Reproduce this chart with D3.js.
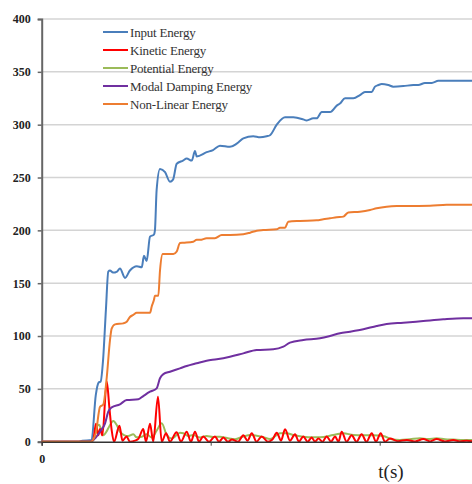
<!DOCTYPE html>
<html>
<head>
<meta charset="utf-8">
<script src="https://cdn.jsdelivr.net/npm/d3@7"></script>
<style>
  html, body { margin: 0; padding: 0; background: #fff; }
</style>
</head>
<body>
<div id="chart"></div>
<script>
// Energias vs tiempo

const width = 472;
const height = 484;

let yTicks = [0, 50, 100, 150, 200, 250, 300, 350, 400];
let xTicks = [0, 10, 20];
let xTickLabels = ["0"];

let seriesNames = ["Input Energy", "Kinetic Energy", "Potential Energy", "Modal Damping Energy", "Non-Linear Energy"];
let seriesColors = ["#4a7ebb", "#ff0000", "#9bbb59", "#7030a0", "#ed7d31"];

// [t, energia]
let inputEnergy = [[0,0],[2.2,0],[2.4,1],[2.95,1.5],[3.2,44],[3.37,56],[3.49,57],[3.63,77],[3.8,125],[3.94,161],[4.04,162],[4.22,160],[4.46,161],[4.63,164],[4.93,155],[5.22,162],[5.63,166],[5.92,165],[6.05,176],[6.21,171],[6.41,194],[6.64,196],[6.7,200],[6.8,238],[7.0,258],[7.3,255],[7.59,246],[7.77,248],[7.99,263],[8.36,266],[8.58,268],[8.88,266],[9.07,275],[9.17,270],[9.76,274],[10.14,276],[10.55,280],[11.14,279],[11.54,282],[11.93,287],[12.52,289],[12.92,288],[13.31,289],[13.51,290],[13.91,300],[14.4,307],[14.89,307],[15.48,305],[15.68,304],[16.07,306],[16.27,306],[16.57,312],[17.06,312],[17.46,318],[17.65,320],[17.95,325],[18.44,325],[18.83,328],[19.13,331],[19.53,331],[19.72,336],[19.92,337.5],[20.12,338.5],[20.51,337.5],[20.8,336],[21.4,336.5],[21.99,337.5],[22.28,337.5],[22.68,339.5],[23.08,339.5],[23.47,341.5],[25.5,341.5]];

let kineticEnergy = [[0,0],[2.9,0],[3.05,1.6],[3.21,17],[3.35,6],[3.45,12],[3.59,6],[3.85,57],[4.0,33],[4.14,11],[4.28,0],[4.6,15],[4.78,1],[5.02,5],[5.22,0],[5.52,1],[5.73,3],[6.01,12],[6.17,0],[6.41,17],[6.6,0],[6.88,42.6],[7.1,0],[7.36,8],[7.59,0],[7.98,9],[8.24,0],[8.58,9.5],[8.83,0],[9.07,9.5],[9.31,0],[9.56,5],[9.9,0],[10.25,5],[10.49,0],[10.75,4],[11.02,0],[11.26,2],[11.62,0],[11.93,6],[12.18,1],[12.43,8],[12.71,0],[13.02,5],[13.39,0],[13.65,2],[13.91,8.5],[14.16,1],[14.4,11.7],[14.69,1],[14.99,7],[15.22,0],[15.48,5],[15.73,0],[15.98,4],[16.17,0],[16.37,3],[16.62,0],[16.86,5],[17.12,0],[17.36,5],[17.56,0],[17.75,9.5],[18.04,0],[18.34,6],[18.63,0],[18.93,7],[19.22,0],[19.53,8],[19.78,0],[20.06,8],[20.31,0],[20.61,3],[21.08,0.5],[21.6,1.6],[22.09,0.3],[22.58,2.5],[22.98,0.3],[23.37,2.5],[23.86,0.3],[24.36,1.6],[24.75,0.3],[25.15,1],[25.5,0.3]];

let potentialEnergy = [[0,0],[2.96,0],[3.09,3],[3.25,14],[3.39,16],[3.51,12],[3.64,6],[3.85,10],[3.94,12.7],[4.24,19.5],[4.44,15.8],[4.63,9.5],[4.87,6.3],[5.12,5.4],[5.42,7],[5.62,4.2],[5.92,4.7],[6.21,7],[6.51,4],[6.8,10.4],[7.1,17.4],[7.4,6.3],[7.69,3],[7.99,6.3],[8.18,8.5],[8.38,8],[8.67,5.4],[8.97,6.3],[9.37,4],[9.76,5.4],[10.14,4.4],[10.55,4.8],[10.96,3.5],[11.44,2.3],[11.93,5],[12.43,6.3],[13.11,4.2],[13.51,2.5],[14.1,8],[14.5,8],[14.89,6.3],[15.48,4.7],[16.07,4.2],[16.47,4.2],[17.25,6.3],[17.85,8],[18.44,6.3],[19.03,6],[19.62,6],[20.21,5.4],[20.71,2.3],[21.2,1.6],[21.79,2.3],[22.38,3.2],[22.86,2.5],[23.37,3.2],[23.86,2.3],[24.36,2],[25.33,1.6],[25.5,1.6]];

let dampingEnergy = [[0,0],[2.8,0],[3.2,4],[3.45,9.5],[3.75,17.4],[3.94,28.4],[4.14,32.5],[4.63,35.4],[5.03,39.5],[5.72,40.1],[6.01,43.2],[6.41,47.3],[6.8,50.5],[7.0,60],[7.2,64],[7.59,66.2],[8.18,69.4],[8.58,71.6],[9.17,74.2],[9.76,76.7],[10.36,78],[11.14,80.4],[11.93,83.6],[12.72,86.8],[13.7,87.4],[14.3,89.9],[14.69,93.7],[15.48,96.2],[16.47,97.8],[17.06,100],[17.65,102.6],[18.24,104.1],[19.03,106.4],[19.82,109.5],[20.41,111.4],[21.4,112.6],[22.58,114.2],[23.76,115.8],[24.95,116.8],[25.5,116.8]];

let nonLinearEnergy = [[0,0],[2.9,0],[3.2,8],[3.45,33],[3.64,35],[3.85,61],[4.04,96],[4.14,107],[4.34,111],[4.83,112],[5.03,113.5],[5.22,118],[5.42,120],[5.62,122],[6.41,122],[6.51,128],[6.64,134],[6.7,138],[6.9,138],[7.0,162],[7.16,177.6],[7.79,177.6],[7.99,180],[8.18,188],[8.38,188.3],[8.97,189.3],[9.17,191],[9.37,191],[9.76,192.5],[10.25,192.5],[10.65,195.6],[11.14,195.6],[11.93,196.3],[12.33,197.8],[12.72,199.7],[13.11,200.3],[13.91,201],[14.1,202.5],[14.4,202.5],[14.59,208.2],[15.28,208.9],[16.27,209.5],[16.66,210.5],[17.06,211.4],[17.46,212.4],[17.85,213],[18.14,217],[18.83,217.7],[19.43,219.3],[19.82,220.9],[20.41,222.4],[21.01,223],[22.98,223.3],[23.96,224.3],[25.5,224.3]];

let allSeries = [inputEnergy, kineticEnergy, potentialEnergy, dampingEnergy, nonLinearEnergy];
// orden de dibujo (kinetic encima de potential)
let drawOrder = [0, 2, 1, 3, 4];

// Grafico
let svg = d3.select("#chart").append("svg")
  .attr("width", width)
  .attr("height", height)
  .attr("viewBox", [0, 0, width, height]);

let xScale = d3.scaleLinear().domain([0, 25.5]).range([41.7, 472.65]);
let yScale = d3.scaleLinear().domain([0, 400]).range([441.7, 19]);

// grilla
for (let i in yTicks) {
  if (yTicks[i] == 0) continue;
  svg.append("line")
    .attr("x1", xScale(0))
    .attr("x2", width)
    .attr("y1", yScale(yTicks[i]))
    .attr("y2", yScale(yTicks[i]))
    .attr("stroke", "#d4d4d4")
    .style("stroke-width", 1.5);
}

// eje y
let yAxis = svg.append("g")
  .attr("transform", `translate(${xScale(0)},0)`)
  .call(d3.axisLeft(yScale).tickValues(yTicks).tickSize(4).tickPadding(7));
yAxis.select(".domain").attr("stroke", "#666").style("stroke-width", 2);
yAxis.selectAll(".tick line").attr("stroke", "#666").style("stroke-width", 1.5);
yAxis.selectAll(".tick text")
  .style("font-family", "'Liberation Serif', 'Times New Roman', serif")
  .style("font-size", "12px")
  .style("font-weight", "bold")
  .attr("fill", "#222");

// lineas (suavizadas como en excel)
let line = d3.line()
  .curve(d3.curveMonotoneX)
  .x(d => xScale(d[0]))
  .y(d => yScale(d[1]));

for (let k of drawOrder) {
  svg.append("path")
    .datum(allSeries[k])
    .attr("fill", "none")
    .attr("stroke", seriesColors[k])
    .style("stroke-width", 2)
    .attr("stroke-linejoin", "round")
    .attr("d", line);
}

// eje x
let xAxis = svg.append("g")
  .attr("transform", `translate(0,${yScale(0)})`)
  .call(d3.axisBottom(xScale).tickValues(xTicks).tickSize(4).tickPadding(9)
    .tickFormat((d, i) => xTickLabels[i] || ""));
xAxis.select(".domain").attr("stroke", "#333").style("stroke-width", 1.5);
xAxis.selectAll(".tick line").attr("stroke", "#444");
xAxis.selectAll(".tick text")
  .style("font-family", "'Liberation Serif', 'Times New Roman', serif")
  .style("font-size", "12px")
  .style("font-weight", "bold")
  .attr("fill", "#222");

svg.append("text")
  .attr("x", 391)
  .attr("y", 478)
  .attr("text-anchor", "middle")
  .style("font-family", "'Liberation Serif', 'Times New Roman', serif")
  .style("font-size", "19px")
  .attr("fill", "#222")
  .text("t(s)");

// leyenda
for (let i in seriesNames) {
  let ly = 32 + i * 18;
  svg.append("line")
    .attr("x1", 103)
    .attr("x2", 128)
    .attr("y1", ly)
    .attr("y2", ly)
    .attr("stroke", seriesColors[i])
    .style("stroke-width", 2);
  svg.append("text")
    .attr("x", 130)
    .attr("y", ly)
    .attr("dy", "0.35em")
    .style("font-family", "'Liberation Serif', 'Times New Roman', serif")
    .style("font-size", "13px")
    .style("letter-spacing", "-0.2px")
    .attr("fill", "#333")
    .text(seriesNames[i]);
}
</script>
</body>
</html>
